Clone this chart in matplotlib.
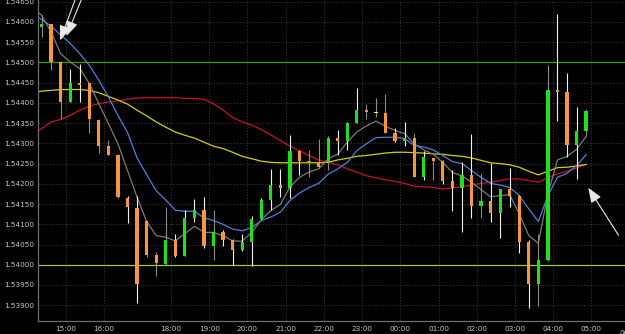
import matplotlib
matplotlib.use("Agg")
import matplotlib.pyplot as plt
import numpy as np

# 15-minute candles (oldest first)
opens = [1.54588, 1.54594, 1.54501, 1.54401, 1.54448, 1.54448, 1.54357, 1.54293, 1.54272, 1.54165,
         1.54140, 1.54107, 1.54025, 1.54003, 1.54060, 1.54022, 1.54116, 1.54135, 1.54047, 1.54080,
         1.54061, 1.54036, 1.54055, 1.54113, 1.54160, 1.54196, 1.54190, 1.54282, 1.54256, 1.54253,
         1.54253, 1.54313, 1.54306, 1.54351, 1.54382, 1.54376, 1.54376, 1.54325, 1.54306, 1.54314,
         1.54216, 1.54264, 1.54256, 1.54206, 1.54190, 1.54223, 1.54146, 1.54158, 1.54128, 1.54186,
         1.54171, 1.54055, 1.53953, 1.54012, 1.54431, 1.54426, 1.54295, 1.54330]
highs = [1.54617, 1.54596, 1.54503, 1.54483, 1.54496, 1.54450, 1.54359, 1.54309, 1.54273, 1.54171,
         1.54171, 1.54107, 1.54032, 1.54142, 1.54077, 1.54135, 1.54163, 1.54168, 1.54135, 1.54086,
         1.54063, 1.54076, 1.54121, 1.54166, 1.54237, 1.54237, 1.54321, 1.54284, 1.54284, 1.54312,
         1.54317, 1.54334, 1.54354, 1.54438, 1.54398, 1.54411, 1.54421, 1.54339, 1.54353, 1.54326,
         1.54282, 1.54265, 1.54259, 1.54233, 1.54255, 1.54324, 1.54227, 1.54251, 1.54186, 1.54239,
         1.54172, 1.54062, 1.54076, 1.54493, 1.54620, 1.54474, 1.54390, 1.54384]
lows = [1.54563, 1.54481, 1.54361, 1.54401, 1.54402, 1.54326, 1.54277, 1.54271, 1.54166, 1.54102,
        1.53906, 1.54020, 1.53971, 1.53999, 1.54020, 1.54021, 1.54105, 1.54041, 1.54011, 1.54047,
        1.54000, 1.54034, 1.53997, 1.54112, 1.54135, 1.54167, 1.54165, 1.54223, 1.54216, 1.54240,
        1.54233, 1.54272, 1.54284, 1.54350, 1.54360, 1.54365, 1.54325, 1.54303, 1.54293, 1.54216,
        1.54210, 1.54210, 1.54200, 1.54132, 1.54082, 1.54116, 1.54116, 1.54105, 1.54065, 1.54142,
        1.54029, 1.53894, 1.53898, 1.54010, 1.54355, 1.54266, 1.54211, 1.54317]
closes = [1.54594, 1.54501, 1.54401, 1.54448, 1.54444, 1.54359, 1.54293, 1.54272, 1.54167, 1.54142,
          1.53953, 1.54025, 1.54005, 1.54061, 1.54021, 1.54116, 1.54135, 1.54047, 1.54080, 1.54061,
          1.54036, 1.54055, 1.54113, 1.54160, 1.54196, 1.54190, 1.54282, 1.54256, 1.54253, 1.54241,
          1.54313, 1.54306, 1.54351, 1.54382, 1.54377, 1.54376, 1.54325, 1.54306, 1.54314, 1.54216,
          1.54266, 1.54256, 1.54206, 1.54190, 1.54223, 1.54146, 1.54158, 1.54128, 1.54186, 1.54171,
          1.54057, 1.53953, 1.54012, 1.54431, 1.54427, 1.54295, 1.54330, 1.54379]
# bars whose shadow the terminal paints bright instead of grey
bright_wick = [0, 0, 0, 1, 1, 0, 0, 0, 0, 1, 1, 0, 0, 0, 1, 1, 1, 1, 0, 1,
               1, 1, 1, 1, 1, 1, 1, 1, 0, 0, 0, 1, 1, 1, 0, 0, 0, 1, 1, 0,
               1, 0, 1, 1, 1, 1, 0, 1, 1, 1, 1, 1, 0, 0, 1, 1, 1, 0]

# moving averages, first value belongs to the bar just left of the window
ma_fast = [1.54635, 1.54617, 1.54575, 1.54522, 1.54501, 1.54485, 1.54448, 1.54398, 1.54349, 1.54299,
           1.54233, 1.54167, 1.54107, 1.54072, 1.54068, 1.54059, 1.54077, 1.54095, 1.54080, 1.54080,
           1.54072, 1.54059, 1.54058, 1.54080, 1.54111, 1.54134, 1.54149, 1.54192, 1.54216, 1.54229,
           1.54237, 1.54262, 1.54273, 1.54303, 1.54328, 1.54343, 1.54355, 1.54342, 1.54332, 1.54324,
           1.54299, 1.54284, 1.54273, 1.54253, 1.54228, 1.54220, 1.54204, 1.54186, 1.54168, 1.54171,
           1.54173, 1.54126, 1.54072, 1.54053, 1.54175, 1.54259, 1.54268, 1.54285, 1.54317]
ma_mid = [1.54623, 1.54606, 1.54590, 1.54568, 1.54547, 1.54522, 1.54493, 1.54456, 1.54415, 1.54369,
          1.54327, 1.54264, 1.54223, 1.54183, 1.54160, 1.54135, 1.54132, 1.54132, 1.54116, 1.54109,
          1.54100, 1.54088, 1.54084, 1.54092, 1.54109, 1.54118, 1.54130, 1.54159, 1.54177, 1.54191,
          1.54201, 1.54224, 1.54237, 1.54253, 1.54282, 1.54299, 1.54314, 1.54315, 1.54315, 1.54312,
          1.54295, 1.54291, 1.54284, 1.54270, 1.54255, 1.54250, 1.54233, 1.54216, 1.54201, 1.54197,
          1.54191, 1.54171, 1.54138, 1.54107, 1.54171, 1.54216, 1.54226, 1.54245, 1.54272]
ma_slow = [1.54425, 1.54429, 1.54431, 1.54433, 1.54433, 1.54433, 1.54431, 1.54425, 1.54416, 1.54407,
           1.54397, 1.54382, 1.54368, 1.54353, 1.54340, 1.54328, 1.54320, 1.54313, 1.54303, 1.54293,
           1.54287, 1.54278, 1.54268, 1.54262, 1.54256, 1.54253, 1.54252, 1.54252, 1.54252, 1.54252,
           1.54252, 1.54253, 1.54259, 1.54263, 1.54268, 1.54270, 1.54273, 1.54276, 1.54278, 1.54278,
           1.54277, 1.54276, 1.54274, 1.54273, 1.54270, 1.54268, 1.54264, 1.54258, 1.54252, 1.54250,
           1.54247, 1.54241, 1.54231, 1.54222, 1.54231, 1.54240, 1.54241, 1.54244, 1.54248]
ma_long = [1.54322, 1.54336, 1.54353, 1.54359, 1.54369, 1.54382, 1.54392, 1.54398, 1.54402, 1.54405,
           1.54409, 1.54412, 1.54413, 1.54413, 1.54413, 1.54413, 1.54411, 1.54411, 1.54409, 1.54398,
           1.54382, 1.54364, 1.54353, 1.54345, 1.54334, 1.54321, 1.54307, 1.54293, 1.54282, 1.54270,
           1.54259, 1.54253, 1.54247, 1.54237, 1.54229, 1.54220, 1.54215, 1.54210, 1.54206, 1.54201,
           1.54194, 1.54193, 1.54191, 1.54187, 1.54190, 1.54193, 1.54197, 1.54201, 1.54204, 1.54208,
           1.54212, 1.54212, 1.54208, 1.54204, 1.54215, 1.54225, 1.54231, 1.54239, 1.54248]

# horizontal levels drawn on the chart
level_upper = 1.54500
level_lower = 1.54000

# hour labels and the bar each hour starts on (no 17:00 bar in the feed)
hour_labels = ["15:00", "16:00", "18:00", "19:00", "20:00", "21:00", "22:00", "23:00",
               "00:00", "01:00", "02:00", "03:00", "04:00", "05:00", "06:00"]
hour_first_bar = [3, 7, 14, 18, 22, 26, 30, 34, 38, 42, 46, 50, 54, 58, 62]

BG = "#000000"
UP = "#1fe01f"
DOWN = "#f7963a"
FLAT = "#ffff00"
TXT = "#c8c8c8"

W, H = 625, 334
fig = plt.figure(figsize=(W / 100, H / 100), dpi=100, facecolor=BG)
ax = fig.add_axes([38 / W, 13.3 / H, 587 / W, 320.7 / H], facecolor=BG)

o = np.array(opens)
c = np.array(closes)
hi = np.array(highs)
lo = np.array(lows)
idx = np.arange(len(o))

wick_col = np.where(np.array(bright_wick) == 1, "#f0f0f0", "#8c8c8c")
ax.vlines(idx, lo, hi, colors=wick_col, linewidth=0.8, zorder=3)

body_col = np.where(c > o, UP, np.where(c < o, DOWN, FLAT))
body_h = np.maximum(np.abs(c - o), 0.00003)
ax.bar(idx, body_h, bottom=np.minimum(o, c) - np.where(c == o, 0.000015, 0),
       width=0.34, color=body_col, linewidth=0, zorder=4)

ma_x = np.arange(-1, len(o))
ax.plot(ma_x, ma_long, color="#c8102e", lw=0.9, zorder=2)
ax.plot(ma_x, ma_slow, color="#cfcf10", lw=0.9, zorder=2)
ax.plot(ma_x, ma_mid, color="#4f7fd8", lw=0.9, zorder=2)
ax.plot(ma_x, ma_fast, color="#7a7a7a", lw=0.9, zorder=2)

ax.axhline(level_upper, color="#3f9a12", lw=0.9, zorder=1)
ax.axhline(level_lower, color="#9ccc34", lw=0.9, zorder=1)

# hand-drawn arrows
arrow_kw = dict(arrowstyle="-|>,head_length=0.9,head_width=0.35", color="#e8e8e8", lw=0.8)
ax.annotate("", xy=(1.85, 1.54548), xytext=(3.9, 1.54680), arrowprops=arrow_kw, annotation_clip=False)
ax.annotate("", xy=(2.5, 1.54559), xytext=(4.6, 1.54680), arrowprops=arrow_kw, annotation_clip=False)
ax.annotate("", xy=(57.07, 1.54196), xytext=(60.55, 1.54067), arrowprops=arrow_kw)

ax.set_xlim(-0.37, 61.07)
ax.set_ylim(1.538617, 1.546543)

yt = np.arange(1.539, 1.54651, 0.0005)
ax.set_yticks(yt)
ax.set_yticklabels([f"{v:.5f}" for v in yt])
tick_x = [b - 0.45 for b in hour_first_bar]
ax.set_xticks(tick_x[:-1])
ax.set_xticklabels(hour_labels[:-1])
# last hour label sits past the right edge and gets cut by the figure
ax.text(tick_x[-1], -0.028, hour_labels[-1], transform=ax.get_xaxis_transform(),
        ha="center", va="top", fontsize=5.2, color=TXT, clip_on=False)

ax.tick_params(colors=TXT, labelsize=5.2, length=0)
ax.tick_params(axis="y", pad=2.5)
ax.tick_params(axis="x", pad=4)
ax.grid(True, color="#3a3a3a", linestyle=(0, (1.5, 2)), linewidth=0.6)
ax.set_axisbelow(True)

for side in ("top", "right"):
    ax.spines[side].set_visible(False)
for side in ("left", "bottom"):
    ax.spines[side].set_color("#6e6e6e")
    ax.spines[side].set_linewidth(0.9)

fig.savefig("out.png", dpi=100, facecolor=BG)
